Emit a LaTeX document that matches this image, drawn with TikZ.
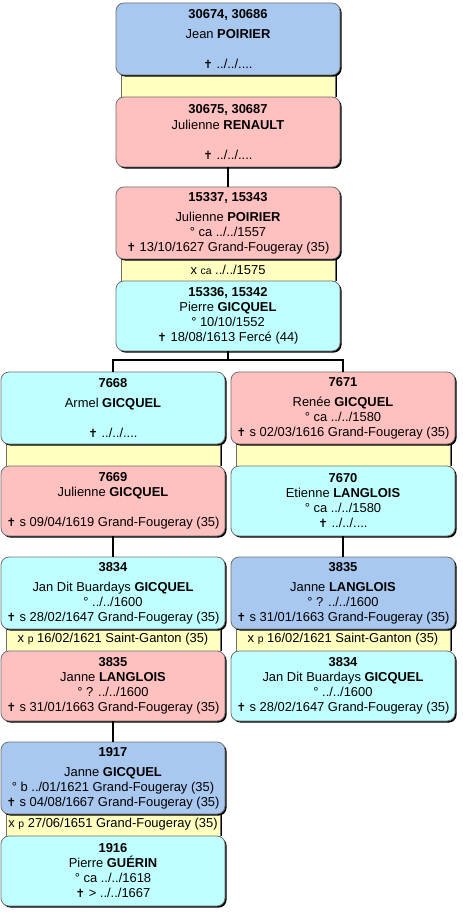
\documentclass[tikz,border=0pt]{standalone}
\usepackage{fontspec}
\setmainfont{Liberation Sans}
\newfontfamily\symfont{DejaVu Sans}
\usetikzlibrary{shadows}
\definecolor{focusblue}{HTML}{A8C8F0}
\definecolor{fempink}{HTML}{FFC0C0}
\definecolor{mascyan}{HTML}{C0FFFF}
\definecolor{unionyellow}{HTML}{FFFFC0}
\definecolor{rim}{HTML}{707070}
\newcommand{\deces}{{\symfont\fontsize{8.5}{9}\selectfont ✝}}
\newcommand{\petit}[1]{{\fontsize{7.8}{9}\selectfont #1}}

\begin{document}
\begin{tikzpicture}[x=0.75pt, y=-0.75pt, line width=1.5pt,
      every node/.style={font=\fontsize{9.7}{11.25}\selectfont},
      person/.style={draw=rim, line width=0.6pt, rounded corners=6pt, align=center, inner sep=0pt,
        minimum width=168pt, drop shadow={shadow xshift=1.2pt, shadow yshift=-1.2pt, fill=black, opacity=1}},
      upper/.style={person, minimum height=54pt},
      lower/.style={person, minimum height=52.5pt},
      focus/.style={fill=focusblue}, fem/.style={fill=fempink}, masc/.style={fill=mascyan},
      union/.style={draw=rim, line width=0.6pt, fill=unionyellow, minimum width=160.5pt, minimum height=17.25pt,
        inner sep=0pt, drop shadow={shadow xshift=1.2pt, shadow yshift=0pt, fill=black, opacity=1}}]
    \useasboundingbox (0,0) rectangle (462,912);
    % generation 1
    \node[union] (u30674) at (228,85.5) {};
    \node[upper, focus] (p30674) at (228,39) {\textbf{30674, 30686}\\[3.75pt] Jean \textbf{POIRIER}\\[11.25pt] \deces\ ../../....};
    \node[lower, fem] (p30675) at (228,132) {\textbf{30675, 30687}\\[0.75pt] Julienne \textbf{RENAULT}\\[11.25pt] \deces\ ../../....};
    % generation 2
    \node[union] (u15337) at (228,269.5) {x \petit{ca} ../../1575};
    \node[upper, fem] (p15337) at (228,223) {\textbf{15337, 15343}\\[3.75pt] Julienne \textbf{POIRIER}\\ ° ca ../../1557\\ \deces\ 13/10/1627 Grand-Fougeray (35)};
    \node[lower, masc] (p15336) at (228,316) {\textbf{15336, 15342}\\ Pierre \textbf{GICQUEL}\\ ° 10/10/1552\\ \deces\ 18/08/1613 Fercé (44)};
    % generation 3
    \node[union] (u7668) at (113,454.5) {};
    \node[upper, masc] (p7668) at (113,408) {\textbf{7668}\\[3.75pt] Armel \textbf{GICQUEL}\\[11.25pt] \deces\ ../../....};
    \node[lower, fem] (p7669) at (113,501) {\textbf{7669}\\ Julienne \textbf{GICQUEL}\\[11.25pt] \deces\ s 09/04/1619 Grand-Fougeray (35)};
    \node[union] (u7671) at (343,454.5) {};
    \node[upper, fem] (p7671) at (343,408) {\textbf{7671}\\[3.75pt] Renée \textbf{GICQUEL}\\ ° ca ../../1580\\ \deces\ s 02/03/1616 Grand-Fougeray (35)};
    \node[lower, masc] (p7670) at (343,501) {\textbf{7670}\\ Etienne \textbf{LANGLOIS}\\ ° ca ../../1580\\ \deces\ ../../....};
    % generation 4
    \node[union] (u3834) at (113,639.5) {x \petit{p} 16/02/1621 Saint-Ganton (35)};
    \node[upper, masc] (p3834) at (113,593) {\textbf{3834}\\[3.75pt] Jan Dit Buardays \textbf{GICQUEL}\\ ° ../../1600\\ \deces\ s 28/02/1647 Grand-Fougeray (35)};
    \node[lower, fem] (p3835) at (113,686) {\textbf{3835}\\ Janne \textbf{LANGLOIS}\\ ° ? ../../1600\\ \deces\ s 31/01/1663 Grand-Fougeray (35)};
    \node[union] (u3835) at (343,639.5) {x \petit{p} 16/02/1621 Saint-Ganton (35)};
    \node[upper, focus] (p3835b) at (343,593) {\textbf{3835}\\[3.75pt] Janne \textbf{LANGLOIS}\\ ° ? ../../1600\\ \deces\ s 31/01/1663 Grand-Fougeray (35)};
    \node[lower, masc] (p3834b) at (343,686) {\textbf{3834}\\ Jan Dit Buardays \textbf{GICQUEL}\\ ° ../../1600\\ \deces\ s 28/02/1647 Grand-Fougeray (35)};
    % generation 5
    \node[union] (u1917) at (113,824.5) {x \petit{p} 27/06/1651 Grand-Fougeray (35)};
    \node[upper, focus] (p1917) at (113,778) {\textbf{1917}\\[3.75pt] Janne \textbf{GICQUEL}\\ ° b ../01/1621 Grand-Fougeray (35)\\ \deces\ s 04/08/1667 Grand-Fougeray (35)};
    \node[lower, masc] (p1916) at (113,871) {\textbf{1916}\\ Pierre \textbf{GUÉRIN}\\ ° ca ../../1618\\ \deces\ > ../../1667};
    % descent lines
    \coordinate (split) at (228,360);
    \draw (p30675.south) -- (p15337.north);
    \draw (p15336.south) -- (split) -| (p7668.north);
    \draw (split) -| (p7671.north);
    \draw (p7669.south) -- (p3834.north);
    \draw (p7670.south) -- (p3835b.north);
    \draw (p3835.south) -- (p1917.north);
  \end{tikzpicture}
\end{document}
